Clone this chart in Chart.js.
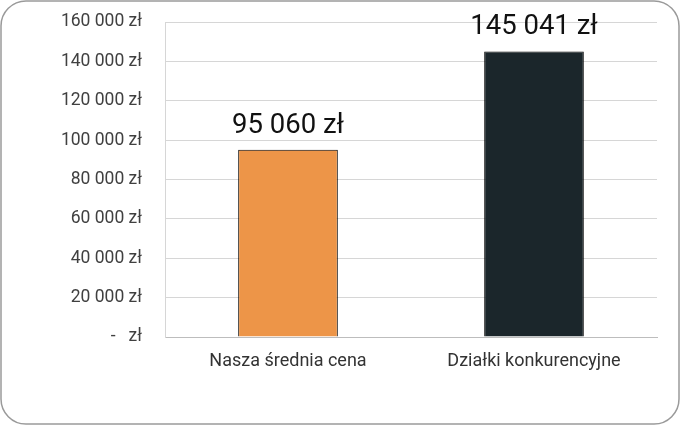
<!DOCTYPE html>
<html>
<head>
<meta charset="utf-8">
<script src="https://cdn.jsdelivr.net/npm/chart.js@4"></script>
<style>
  html, body { margin: 0; padding: 0; background: #fff; }
  #wrap { width: 680px; height: 425px; position: relative; }
</style>
</head>
<body>
<div id="wrap"><canvas id="chart" width="680" height="425"></canvas></div>
<script>
// categories and values
const categories = ["Nasza średnia cena", "Działki konkurencyjne"];
const prices = [95060, 145041];
const barColors = ["#ED9548", "#1B262B"];

// thousand separator with space, like the original
function fmt(v) {
  return String(Math.round(v)).replace(/\B(?=(\d{3})+(?!\d))/g, " ") + " zł";
}

// labels over the bars
const valueLabels = {
  id: "valueLabels",
  afterDatasetsDraw(chart) {
    const ctx = chart.ctx;
    const meta = chart.getDatasetMeta(0);
    ctx.save();
    ctx.font = "27.5px Roboto";
    ctx.fillStyle = "#111";
    ctx.textAlign = "center";
    ctx.textBaseline = "alphabetic";
    meta.data.forEach((bar, i) => {
      ctx.fillText(fmt(prices[i]), bar.x, bar.y - 17);
    });
    ctx.restore();
  }
};

// rounded frame round the whole picture
const frame = {
  id: "frame",
  afterDraw(chart) {
    const ctx = chart.ctx;
    ctx.save();
    ctx.strokeStyle = "#9a9a9a";
    ctx.lineWidth = 1.5;
    ctx.beginPath();
    ctx.roundRect(1, 1, 678, 423, 25);
    ctx.stroke();
    ctx.restore();
  }
};

new Chart(document.getElementById("chart"), {
  type: "bar",
  plugins: [valueLabels, frame],
  data: {
    labels: categories,
    datasets: [{
      data: prices,
      backgroundColor: barColors,
      borderColor: "#000",
      borderWidth: 1,
      barPercentage: 0.405,
      categoryPercentage: 1
    }]
  },
  options: {
    responsive: false,
    animation: false,
    layout: { padding: { left: 0, top: 22, right: 23, bottom: 0 } },
    plugins: {
      legend: { display: false },
      tooltip: { enabled: false }
    },
    scales: {
      x: {
        grid: { display: false, drawTicks: false },
        border: { display: true, color: "#bdbdbd", width: 1 },
        ticks: { color: "#333", font: { family: "Roboto", size: 18 }, padding: 14 },
        afterFit(scale) { scale.height = 88; }
      },
      y: {
        min: 0,
        max: 160000,
        grid: { color: "#d6d6d6", drawTicks: false },
        border: { display: true, color: "#d6d6d6" },
        ticks: {
          stepSize: 20000,
          color: "#404040",
          font: { family: "Roboto", size: 17.5 },
          padding: 23,
          callback: (v) => v === 0 ? "-   zł" : fmt(v)
        },
        afterFit(scale) {
          scale.width = 165;
          scale.paddingTop = 0;
          scale.paddingBottom = 0;
        }
      }
    }
  }
});
</script>
</body>
</html>
